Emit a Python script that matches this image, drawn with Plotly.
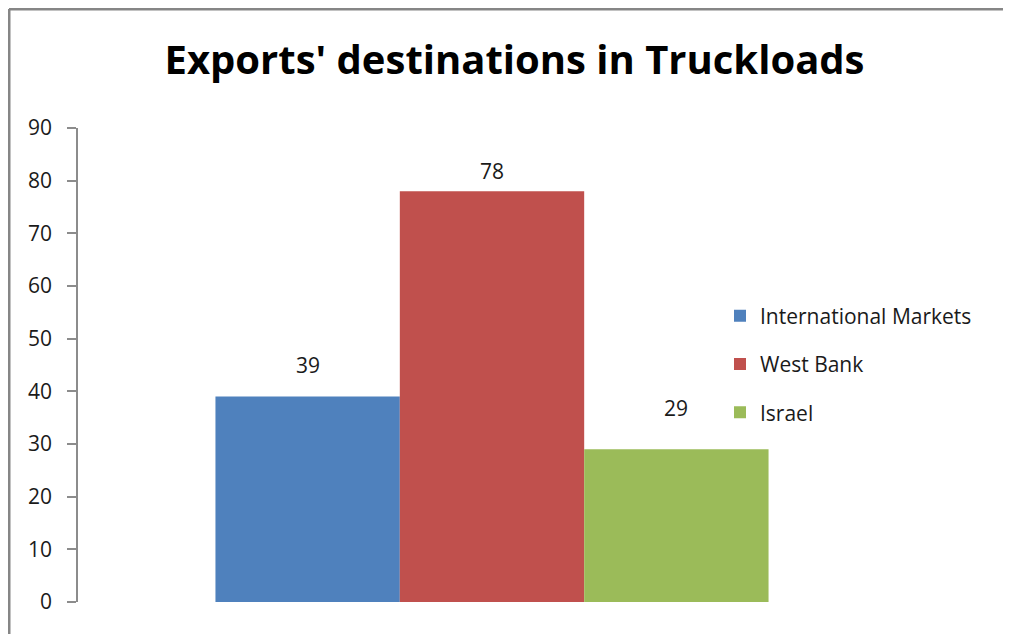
import plotly.graph_objects as go

# ---- data ----
category = ["Exports"]
series_names = ["International Markets", "West Bank", "Israel"]
series_values = [39, 78, 29]
series_colors = ["#4F81BD", "#C0504D", "#9BBB59"]
y_ticks = [0, 10, 20, 30, 40, 50, 60, 70, 80, 90]
title_text = "Exports' destinations in Truckloads"

# style: pixel distance from bar top to label centre (as in the original)
label_offsets_px = [32, 20, 41]

# page body has an 8px margin, so the figure is 8px smaller
W, H = 1003, 626
ML, MR, MT, MB = 70, 105, 120, 32
BARGAP = 0.332
plot_w = W - ML - MR
plot_h = H - MT - MB
bar_px = plot_w * (1 - BARGAP) / len(series_names)
FONT = "Open Sans, sans-serif"

fig = go.Figure()
for i, (name, val, col) in enumerate(zip(series_names, series_values, series_colors)):
    fig.add_trace(go.Bar(
        x=category, y=[val], name=name,
        marker=dict(color=col, line=dict(width=0)),
        legendgroup=name,
        hoverinfo="skip",
    ))
    fig.add_annotation(
        x=category[0], y=val, xref="x", yref="y",
        text=str(val), showarrow=False,
        xshift=(i - (len(series_names) - 1) / 2) * bar_px,
        yshift=label_offsets_px[i], yanchor="middle",
        font=dict(family=FONT, size=21, color="#1a1a1a"),
    )

fig.update_layout(
    width=W, height=H,
    margin=dict(l=ML, r=MR, t=MT, b=MB, pad=0),
    paper_bgcolor="white", plot_bgcolor="white",
    barmode="group", bargap=BARGAP, bargroupgap=0,
    title=dict(
        text=title_text, x=0.505, xanchor="center", y=1 - 52 / H, yanchor="middle",
        font=dict(family=FONT, size=40, color="black", weight="bold"),
    ),
    showlegend=True,
    legend=dict(
        x=(712 - ML) / plot_w, xanchor="left",
        y=0.502, yanchor="middle",
        font=dict(family=FONT, size=21, color="#1a1a1a"),
        tracegroupgap=18, traceorder="grouped",
        bgcolor="rgba(0,0,0,0)",
        itemwidth=30,
    ),
    xaxis=dict(
        showline=False, showticklabels=False, ticks="", showgrid=False, zeroline=False,
    ),
    yaxis=dict(
        range=[0, 90], tickvals=y_ticks, showgrid=False, zeroline=False,
        showline=True, linecolor="#8c8c8c", linewidth=1.5,
        ticks="outside", ticklen=9, tickcolor="#8c8c8c", tickwidth=1.5,
        ticklabelstandoff=11,
        tickfont=dict(family=FONT, size=21, color="#1a1a1a"),
    ),
    shapes=[
        dict(type="line", xref="paper", yref="paper",
             x0=(1 - ML) / plot_w, x1=(W + 10 - ML) / plot_w,
             y0=(H - MB - 1) / plot_h, y1=(H - MB - 1) / plot_h,
             line=dict(color="#868686", width=3)),
        dict(type="line", xref="paper", yref="paper",
             x0=(1 - ML) / plot_w, x1=(1 - ML) / plot_w,
             y0=(-MB - 10) / plot_h, y1=(H - MB - 1) / plot_h,
             line=dict(color="#868686", width=3)),
    ],
)

fig.write_html("out.html")
